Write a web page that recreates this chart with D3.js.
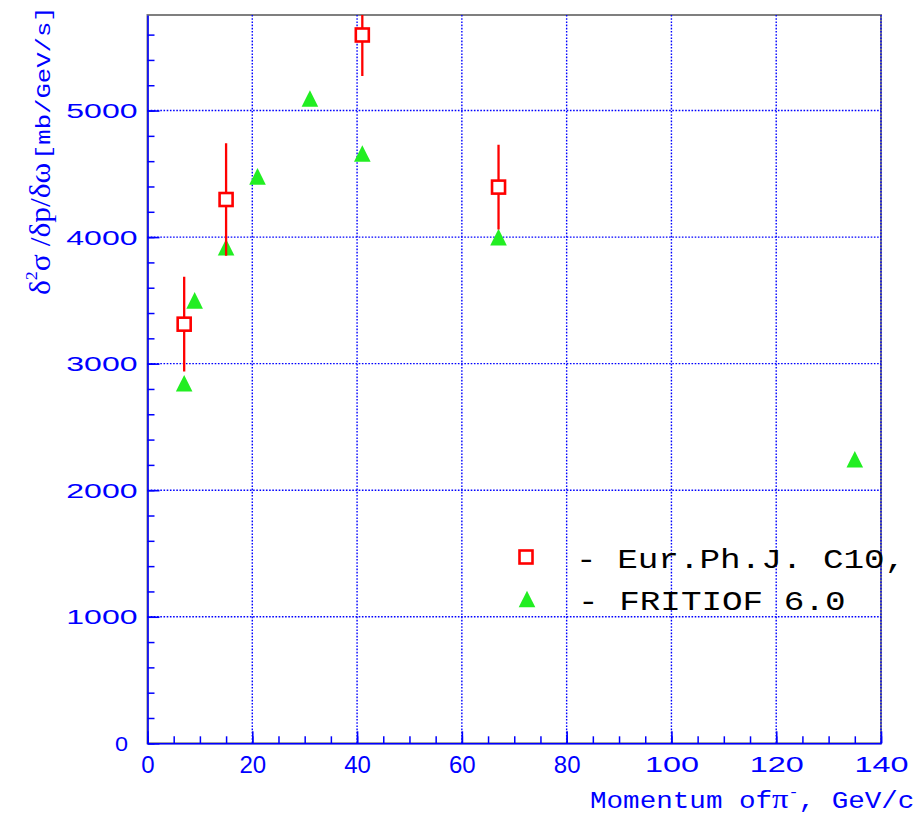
<!DOCTYPE html>
<html>
<head>
<meta charset="utf-8">
<script src="https://cdn.jsdelivr.net/npm/d3@7"></script>
<style>
  body { margin: 0; background: #fff; }
  svg { display: block; }
</style>
</head>
<body>
<svg id="chart" width="918" height="815"></svg>
<script>
// Measured cross sections (Eur.Ph.J. C10) with their errors
const expMomentum = [7, 15, 41, 67];
const expValue    = [3312, 4297, 5597, 4395];
const expError    = [375, 444, 324, 335];

// FRITIOF 6.0 model prediction
const fritiofMomentum = [7, 9, 15, 21, 31, 41, 67, 135];
const fritiofValue    = [2845, 3500, 3920, 4480, 5095, 4660, 4000, 2245];

// Axis ticks and labels
const xTicks = [0, 20, 40, 60, 80, 100, 120, 140];
const xMinorTicks = d3.range(0, 141, 5);
const yTicks = [0, 1000, 2000, 3000, 4000, 5000];
const yMinorTicks = d3.range(0, 5755, 200);
const legendLabels = ["- Eur.Ph.J. C10,", "- FRITIOF 6.0"];

const BLUE = "#0000ff", RED = "#ff0000", GREEN = "#22ee22";
const MONO = "'Liberation Mono', 'DejaVu Sans Mono', monospace";
const SANS = "'Liberation Sans', Arial, sans-serif";
const SERIF = "'Liberation Serif', 'DejaVu Serif', serif";

const svg = d3.select("#chart");
const plotL = 147.5, plotR = 881, plotT = 15, plotB = 743.3;

const x = d3.scaleLinear().domain([0, 140]).range([plotL, plotR]);
const y = d3.scaleLinear().domain([0, 5755]).range([plotB, plotT]);

svg.append("defs").append("clipPath").attr("id", "plotClip")
  .append("rect").attr("x", plotL).attr("y", plotT)
  .attr("width", plotR - plotL).attr("height", plotB - plotT);

// frame
svg.append("rect")
  .attr("x", plotL).attr("y", plotT)
  .attr("width", plotR - plotL).attr("height", plotB - plotT)
  .attr("fill", "none").attr("stroke", "#7f7f7f").attr("stroke-width", 2);

// dotted grid
const grid = svg.append("g")
  .attr("stroke", BLUE).attr("stroke-width", 1.4)
  .attr("stroke-dasharray", "1.6,1.6");
grid.selectAll("line.v").data(xTicks.filter(d => d > 0)).join("line")
  .attr("class", "v")
  .attr("x1", d => x(d)).attr("x2", d => x(d))
  .attr("y1", plotT).attr("y2", plotB);
grid.selectAll("line.h").data(yTicks.filter(d => d > 0)).join("line")
  .attr("class", "h")
  .attr("x1", plotL).attr("x2", plotR)
  .attr("y1", d => y(d)).attr("y2", d => y(d));

// y axis: ticks point into the plot
const yMinor = svg.append("g").attr("transform", `translate(${plotL},0)`)
  .call(d3.axisLeft(y).tickValues(yMinorTicks).tickSize(-7).tickFormat(""));
yMinor.select(".domain").remove();
yMinor.selectAll("line").attr("stroke", BLUE).attr("stroke-width", 1.5);

const yAxis = svg.append("g").attr("transform", `translate(${plotL},0)`)
  .call(d3.axisLeft(y).tickValues(yTicks).tickSizeInner(-12).tickSizeOuter(0)
        .tickPadding(10).tickFormat(d3.format("d")));
yAxis.select(".domain").attr("stroke", BLUE).attr("stroke-width", 1.6);
yAxis.selectAll("line").attr("stroke", BLUE).attr("stroke-width", 1.6);
yAxis.selectAll("text")
  .attr("fill", BLUE)
  .style("font-family", SANS).style("font-size", "20px")
  .attr("dy", "0.36em")
  .attr("x", d => d === 0 ? -19.5 : -10)
  .attr("textLength", d => d === 0 ? 13 : String(d).length * 17.8)
  .attr("lengthAdjust", "spacingAndGlyphs");

// x axis
const xMinor = svg.append("g").attr("transform", `translate(0,${plotB})`)
  .call(d3.axisBottom(x).tickValues(xMinorTicks).tickSize(-7).tickFormat(""));
xMinor.select(".domain").remove();
xMinor.selectAll("line").attr("stroke", BLUE).attr("stroke-width", 1.5);

const xAxis = svg.append("g").attr("transform", `translate(0,${plotB})`)
  .call(d3.axisBottom(x).tickValues(xTicks).tickSizeInner(-12).tickSizeOuter(0)
        .tickPadding(13).tickFormat(d3.format("d")));
xAxis.select(".domain").attr("stroke", BLUE).attr("stroke-width", 1.6);
xAxis.selectAll("line").attr("stroke", BLUE).attr("stroke-width", 1.6);
xAxis.selectAll("text")
  .attr("fill", BLUE)
  .style("font-family", SANS).style("font-size", "24px")
  .each(function (d) {
    if (d >= 100) {
      d3.select(this).style("font-size", "22px")
        .attr("textLength", String(d).length * 18)
        .attr("lengthAdjust", "spacingAndGlyphs");
    }
  });

// data layer
const plot = svg.append("g").attr("clip-path", "url(#plotClip)");

const triangle = s => `M${-s},${s}L${s},${s}L0,${-s}Z`;

const fritiof = fritiofMomentum.map((m, i) => ({ m, v: fritiofValue[i] }));
plot.selectAll("path.fritiof").data(fritiof).join("path")
  .attr("class", "fritiof")
  .attr("d", triangle(8.3))
  .attr("transform", d => `translate(${x(d.m)},${y(d.v)})`)
  .attr("fill", GREEN);

const exp = expMomentum.map((m, i) => ({ m, v: expValue[i], e: expError[i] }));
plot.selectAll("line.err").data(exp).join("line")
  .attr("class", "err")
  .attr("x1", d => x(d.m)).attr("x2", d => x(d.m))
  .attr("y1", d => y(d.v - d.e)).attr("y2", d => y(d.v + d.e))
  .attr("stroke", RED).attr("stroke-width", 2.3);
plot.selectAll("rect.exp").data(exp).join("rect")
  .attr("class", "exp")
  .attr("x", d => x(d.m) - 6.5).attr("y", d => y(d.v) - 6.5)
  .attr("width", 13).attr("height", 13)
  .attr("fill", "#fff").attr("stroke", RED).attr("stroke-width", 2.6);

// legend
const legend = svg.append("g");
legend.append("rect")
  .attr("x", 526 - 6.5).attr("y", 557 - 6.5).attr("width", 13).attr("height", 13)
  .attr("fill", "#fff").attr("stroke", RED).attr("stroke-width", 2.6);
legend.append("path")
  .attr("d", triangle(8.3)).attr("transform", "translate(527,599)")
  .attr("fill", GREEN);
[[576, 568], [578, 610]].forEach(([lx, ly], i) => {
  legend.append("text")
    .attr("transform", `translate(${lx},${ly}) scale(1.27,1)`)
    .style("font-family", MONO).style("font-size", "27px")
    .attr("fill", "#000")
    .text(legendLabels[i]);
});

// x axis title
const xt = svg.append("text")
  .attr("transform", "translate(590,808) scale(1.2,1)")
  .attr("fill", BLUE).style("font-family", MONO).style("font-size", "23px");
xt.append("tspan").text("Momentum of");
xt.append("tspan").style("font-family", SERIF).style("font-size", "27px").text("π");
xt.append("tspan").style("font-size", "14px").attr("dy", -11).text("-");
xt.append("tspan").attr("dy", 11).text(", GeV/c");

// y axis title (rotated, reading upwards): symbols part, then units
const yt = svg.append("text")
  .attr("transform", "translate(50,295) rotate(-90) scale(1.05,1)")
  .attr("fill", BLUE).style("font-family", SERIF).style("font-size", "30px");
yt.append("tspan").text("δ");
yt.append("tspan").style("font-size", "17px").attr("dy", -13).text("2");
yt.append("tspan").attr("dy", 13).text("σ /δp/δω");
svg.append("text")
  .attr("transform", "translate(50,160) rotate(-90) scale(1.22,1)")
  .attr("fill", BLUE).style("font-family", MONO).style("font-size", "21px")
  .text("[mb/GeV/s]");
</script>
</body>
</html>
